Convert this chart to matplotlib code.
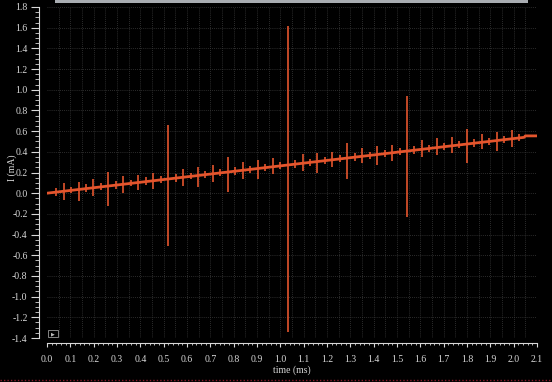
import numpy as np
import matplotlib
matplotlib.use("Agg")
import matplotlib.pyplot as plt
from matplotlib.lines import Line2D
from matplotlib.patches import Rectangle
from matplotlib.ticker import MultipleLocator

# ── data ────────────────────────────────────────────────────────────
ramp_t = [0.0, 2.045, 2.05, 2.1]          # ms
ramp_i = [0.0, 0.54, 0.554, 0.554]        # mA

spike_t = [0.039, 0.071, 0.103, 0.135, 0.167, 0.199, 0.231, 0.263,
           0.295, 0.327, 0.359, 0.391, 0.423, 0.455, 0.487, 0.519,
           0.551, 0.583, 0.615, 0.647, 0.679, 0.711, 0.743, 0.775,
           0.807, 0.839, 0.871, 0.903, 0.935, 0.967, 0.999, 1.031,
           1.063, 1.095, 1.127, 1.159, 1.191, 1.223, 1.255, 1.287,
           1.319, 1.351, 1.383, 1.415, 1.447, 1.479, 1.511, 1.543,
           1.575, 1.607, 1.639, 1.671, 1.703, 1.735, 1.767, 1.799,
           1.831, 1.863, 1.895, 1.927, 1.959, 1.991, 2.023]
# excursion above / below the ramp (mA)
spike_up = [0.04, 0.076, 0.035, 0.074, 0.04, 0.081, 0.035, 0.14,
            0.04, 0.079, 0.035, 0.077, 0.04, 0.075, 0.035, 0.52,
            0.04, 0.076, 0.035, 0.085, 0.04, 0.082, 0.035, 0.145,
            0.04, 0.078, 0.035, 0.081, 0.04, 0.084, 0.035, 1.34,
            0.04, 0.086, 0.035, 0.083, 0.04, 0.076, 0.035, 0.149,
            0.04, 0.082, 0.035, 0.081, 0.04, 0.074, 0.035, 0.53,
            0.04, 0.088, 0.035, 0.094, 0.04, 0.086, 0.035, 0.15,
            0.04, 0.083, 0.035, 0.083, 0.04, 0.083, 0.035]
spike_dn = [-0.035, -0.085, -0.03, -0.112, -0.035, -0.08, -0.03, -0.19,
            -0.035, -0.082, -0.03, -0.073, -0.035, -0.08, -0.03, -0.65,
            -0.035, -0.084, -0.03, -0.114, -0.035, -0.078, -0.03, -0.19,
            -0.035, -0.082, -0.03, -0.104, -0.035, -0.071, -0.03, -1.61,
            -0.035, -0.075, -0.03, -0.107, -0.035, -0.068, -0.03, -0.2,
            -0.035, -0.068, -0.03, -0.105, -0.035, -0.082, -0.03, -0.64,
            -0.035, -0.073, -0.03, -0.073, -0.035, -0.07, -0.03, -0.187,
            -0.035, -0.069, -0.03, -0.1, -0.035, -0.077, -0.03]

TRACE = "#e4552d"
FG = "#d8d8d8"
SERIF = ["Liberation Serif", "DejaVu Serif"]

fig = plt.figure(figsize=(5.52, 3.82), dpi=100, facecolor="black")
ax = fig.add_axes([47 / 552, 1 - 338 / 382, 490 / 552, 331 / 382], facecolor="black")

st = np.array(spike_t)
base = np.interp(st, ramp_t, ramp_i)
ax.vlines(st, base + np.array(spike_dn), base + np.array(spike_up), color=TRACE, lw=1.2, zorder=3)
ax.plot(ramp_t, ramp_i, color=TRACE, lw=2.0, zorder=4)

ax.set_xlim(0, 2.1); ax.set_ylim(-1.4, 1.8)
ax.xaxis.set_major_locator(MultipleLocator(0.1))
ax.xaxis.set_minor_locator(MultipleLocator(0.02))
ax.yaxis.set_major_locator(MultipleLocator(0.2))
ax.yaxis.set_minor_locator(MultipleLocator(0.05))

# dotted grid: 0.05 ms / 0.2 mA
for x in np.arange(0.05, 2.1, 0.05):
    ax.axvline(x, color="#3a3a3a", lw=0.6, ls=(0, (1, 1.5)), zorder=1)
for y in np.arange(-1.2, 1.81, 0.2):
    ax.axhline(y, color="#3a3a3a", lw=0.6, ls=(0, (1, 1.5)), zorder=1)

for s in ("top", "right"):
    ax.spines[s].set_visible(False)
ax.spines["left"].set_position(("outward", 6))
ax.spines["bottom"].set_position(("outward", 3.5))
for s in ("left", "bottom"):
    ax.spines[s].set_color(FG); ax.spines[s].set_linewidth(0.8)

ax.tick_params(axis="y", which="major", length=6, width=0.8, color=FG, labelcolor=FG,
               labelsize=7, pad=2)
ax.tick_params(axis="y", which="minor", length=3, width=0.6, color=FG)
ax.tick_params(axis="x", which="major", length=3, width=0.8, color=FG, labelcolor=FG,
               labelsize=7, pad=6)
ax.tick_params(axis="x", which="minor", length=1.6, width=0.6, color=FG)
for lab in ax.get_xticklabels() + ax.get_yticklabels():
    lab.set_family(SERIF)
ax.set_yticklabels([f"{v:.1f}" for v in ax.get_yticks()])
ax.set_xticklabels([f"{v:.1f}" for v in ax.get_xticks()])
for lab in ax.get_xticklabels() + ax.get_yticklabels():
    lab.set_family(SERIF)

fig.text(12 / 552, 1 - 168 / 382, "I (mA)", rotation=90, color=FG, fontsize=7,
         family=SERIF, ha="center", va="center")
fig.text(292 / 552, 1 - 370 / 382, "time (ms)", color=FG, fontsize=7,
         family=SERIF, ha="center", va="center")

# window chrome: scrollbar strip on top, play box, dotted red border at bottom
fig.add_artist(Rectangle((55 / 552, 1 - 3 / 382), 473 / 552, 3 / 382,
                         transform=fig.transFigure, color="#a9adb2", lw=0))
fig.add_artist(Rectangle((48 / 552, 1 - 337 / 382), 10 / 552, 7 / 382,
                         transform=fig.transFigure, fill=False, ec="#9a9a9a", lw=0.6))
fig.text(53 / 552, 1 - 333.5 / 382, "▶", color="#bbbbbb", fontsize=3.5,
         ha="center", va="center", family="DejaVu Sans")
fig.add_artist(Line2D([0, 1], [1 - 380 / 382] * 2, transform=fig.transFigure,
                      color="#8a1a2a", lw=1.0, ls=(0, (1, 1.5))))

fig.savefig("out.png", dpi=100, facecolor="black")
